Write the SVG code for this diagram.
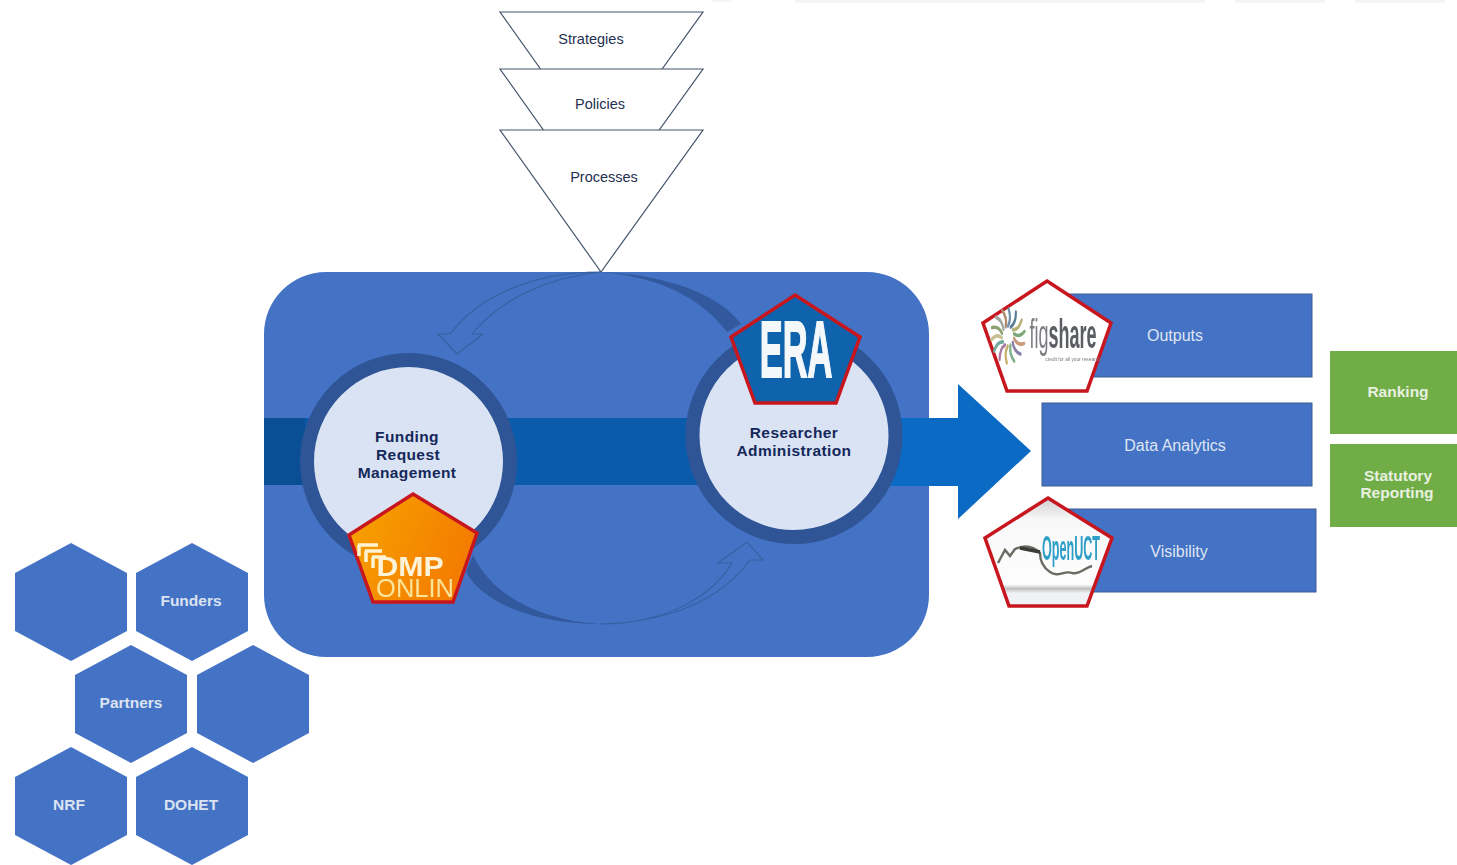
<svg xmlns="http://www.w3.org/2000/svg" width="1457" height="865" viewBox="0 0 1457 865">
<style>
text{font-family:"Liberation Sans",Arial,sans-serif;text-anchor:middle}
.tri{fill:#fff;stroke:#44546a;stroke-width:1.2}
.tt{font-size:14.5px;fill:#1f3050}
.box{fill:#4472c4;stroke:#3f5f96;stroke-width:1}
.bt{font-size:16px;fill:#dfe6f3}
.grn{fill:#70ad47}
.gt{font-size:15.5px;font-weight:bold;fill:#e8f0e0}
.hex{fill:#4472c4}
.ht{font-size:15.5px;font-weight:bold;fill:#dbe3f2}
.ring{fill:#dae3f3;stroke:#2f5597;stroke-width:14}
.ct{font-size:15.5px;font-weight:bold;fill:#14285a;letter-spacing:.4px}
.pent{stroke:#c8161e;stroke-width:3.5}
.cres{fill:#2f5597;opacity:.85}
.curve{fill:#4472c4;stroke:#35609f;stroke-width:1.1}
</style>
<defs>
<linearGradient id="dmp" x1="0" y1="0" x2="1" y2=".4"><stop offset="0" stop-color="#f7a400"/><stop offset="1" stop-color="#f47c00"/></linearGradient>
<linearGradient id="uct" x1="0" y1="0" x2="0" y2="1"><stop offset="0" stop-color="#cfcfcf"/><stop offset=".2" stop-color="#f8f8f8"/><stop offset=".8" stop-color="#fdfdfd"/><stop offset=".84" stop-color="#bdbdbd"/><stop offset=".88" stop-color="#f0f2f6"/></linearGradient>
<filter id="soft" x="-5%" y="-5%" width="110%" height="110%"><feGaussianBlur stdDeviation=".55"/></filter>
<path id="petal" d="M0-10C4-15 4-21 1-27" fill="none" stroke-width="3.600" stroke-linecap="round"/>
</defs>

<g id="top-smudge" fill="#f5f5f5"><rect x="795" y="0" width="410" height="3"/><rect x="1235" y="0" width="90" height="3"/><rect x="1355" y="0" width="90" height="3"/><rect x="712" y="0" width="20" height="2"/></g>

<g id="strategies"><polygon class="tri" points="500,12 703,12 601,154"/><text class="tt" x="591" y="44">Strategies</text></g>
<g id="policies"><polygon class="tri" points="500,69 703,69 601,211"/><text class="tt" x="600" y="109">Policies</text></g>
<g id="processes"><polygon class="tri" points="500,130 703,130 601,272"/><text class="tt" x="604" y="182">Processes</text></g>

<g id="container"><rect x="264" y="272" width="665" height="385" rx="62" fill="#4472c4"/>
<path d="M264 418H305V485H264Z" fill="#0a4f96"/><rect x="305" y="418" width="400" height="67" fill="#0a5bab"/></g>

<g id="connectors">
<path class="cres" d="M600 272C660 274 718 292 741 324L727 332C700 296 655 276 600 272Z"/>
<path class="curve" d="M600 272C535 272 480 295 450 334H438L457 354L483 334H472C500 300 545 278 600 272Z"/>
<path class="cres" d="M600 624C540 624 485 606 466 572L473 555C492 596 540 620 600 624Z"/>
<path class="curve" d="M600 624C660 624 710 600 732 563H718L747 542L763 560H750C720 600 670 622 600 624Z"/>
<path d="M890 418H958V384L1031 451L958 519V486H890Z" fill="#0a6ac4"/>
</g>

<g id="funding"><circle class="ring" cx="408.500" cy="461.500" r="101.500"/><text class="ct" x="407" y="442">Funding</text><text class="ct" x="408" y="460">Request</text><text class="ct" x="407" y="478">Management</text></g>
<g id="researcher"><circle class="ring" cx="794" cy="435.500" r="101.500"/><text class="ct" x="794" y="438">Researcher</text><text class="ct" x="794" y="456">Administration</text></g>

<g id="era-logo"><polygon class="pent" fill="#0f62ac" points="795,295 860,337 836,403 755,403 731,337"/><text transform="translate(796 377) scale(.43 1)" font-size="80" font-weight="bold" fill="#f4f8fb" stroke="#f4f8fb" stroke-width="2">ERA</text></g>

<g id="dmp-logo"><polygon class="pent" fill="url(#dmp)" points="413,494 477,533 453,602 373,602 349,535"/>
<g filter="url(#soft)"><path d="M358 545H378M359 545V556M365 551H382M366 551V562M372 557H386M373 557V568" fill="none" stroke="#fff3d0" stroke-width="3.500"/>
<text transform="translate(410 576) scale(1.080 1)" font-size="28" font-weight="bold" fill="#fdf3d8">DMP</text>
<text transform="translate(415 597) scale(1.020 1)" font-size="25" fill="#fbe39a">ONLIN</text></g></g>

<g id="outputs"><rect class="box" x="1060" y="294" width="252" height="83"/><text class="bt" x="1175" y="341">Outputs</text></g>
<g id="analytics"><rect class="box" x="1042" y="403" width="270" height="83"/><text class="bt" x="1175" y="451">Data Analytics</text></g>
<g id="visibility"><rect class="box" x="1060" y="509" width="256" height="83"/><text class="bt" x="1179" y="557">Visibility</text></g>

<g id="figshare-logo"><polygon class="pent" fill="#fff" points="1047,281 1111,323 1087,391 1007,391 983,323"/>
<g filter="url(#soft)"><g transform="translate(1008 336) scale(.62 1)">
<use href="#petal" stroke="#6f8fa8"/><use href="#petal" transform="rotate(26)" stroke="#5a7f9a"/><use href="#petal" transform="rotate(52)" stroke="#b8b078"/><use href="#petal" transform="rotate(78)" stroke="#7fa87a"/><use href="#petal" transform="rotate(104)" stroke="#c89a7a"/><use href="#petal" transform="rotate(130)" stroke="#8a7fa8"/><use href="#petal" transform="rotate(156)" stroke="#7fb08a"/><use href="#petal" transform="rotate(182)" stroke="#c8b06a"/><use href="#petal" transform="rotate(208)" stroke="#a87aa0"/><use href="#petal" transform="rotate(234)" stroke="#6fa89a"/><use href="#petal" transform="rotate(260)" stroke="#c8c090"/><use href="#petal" transform="rotate(286)" stroke="#8fa070"/><use href="#petal" transform="rotate(312)" stroke="#a0a8a0"/><use href="#petal" transform="rotate(338)" stroke="#b08a70"/></g>
<text transform="translate(1063 348) scale(.45 1)" font-size="40" fill="#7c7e82">fig<tspan fill="#5a5d62" font-weight="bold">share</tspan></text>
<text x="1073" y="361" font-size="4.800" fill="#77797c">credit for all your research</text></g></g>

<g id="openuct-logo"><polygon class="pent" fill="url(#uct)" points="1048,498 1112,538 1087,606 1009,606 985,538"/>
<g filter="url(#soft)"><path d="M998 563L1005 550L1010 556L1015 549C1024 545 1032 545 1040 553C1040 562 1044 568 1050 572C1058 578 1064 570 1072 573C1080 575 1084 568 1092 566" fill="none" stroke="#6a6a62" stroke-width="2.400"/>
<path d="M1020 548L1040 552" stroke="#3a3a38" stroke-width="3.500"/>
<text transform="translate(1071 560) scale(.35 1)" font-size="36" font-weight="bold" fill="#2f9fc8">OpenUCT</text></g></g>

<g id="ranking"><rect class="grn" x="1330" y="351" width="127" height="83"/><text class="gt" x="1398" y="397">Ranking</text></g>
<g id="reporting"><rect class="grn" x="1330" y="444" width="127" height="83"/><text class="gt" x="1398" y="481">Statutory</text><text class="gt" x="1397" y="498">Reporting</text></g>

<g id="hex-1"><polygon class="hex" points="71,543 127,573 127,631 71,661 15,631 15,573"/></g>
<g id="hex-funders"><polygon class="hex" points="192,543 248,573 248,631 192,661 136,631 136,573"/><text class="ht" x="191" y="606">Funders</text></g>
<g id="hex-partners"><polygon class="hex" points="131,645 187,675 187,733 131,763 75,733 75,675"/><text class="ht" x="131" y="708">Partners</text></g>
<g id="hex-4"><polygon class="hex" points="253,645 309,675 309,733 253,763 197,733 197,675"/></g>
<g id="hex-nrf"><polygon class="hex" points="71,747 127,777 127,835 71,865 15,835 15,777"/><text class="ht" x="69" y="810">NRF</text></g>
<g id="hex-dohet"><polygon class="hex" points="192,747 248,777 248,835 192,865 136,835 136,777"/><text class="ht" x="191" y="810">DOHET</text></g>
</svg>
